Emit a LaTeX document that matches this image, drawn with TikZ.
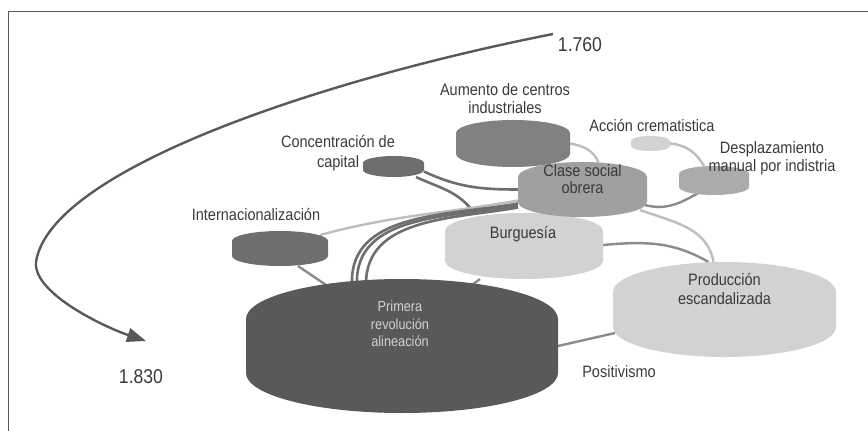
\documentclass[tikz,border=0pt]{standalone}
\usepackage{fontspec}
\setmainfont[FakeStretch=0.88]{Liberation Sans}
\usetikzlibrary{positioning,calc,arrows.meta}

\definecolor{gA}{HTML}{58595B}
\definecolor{gB}{HTML}{6D6E70}
\definecolor{gC}{HTML}{808183}
\definecolor{gD}{HTML}{9FA0A2}
\definecolor{gE}{HTML}{AAABAD}
\definecolor{gF}{HTML}{D1D2D4}
\definecolor{lnA}{HTML}{6D6E70}
\definecolor{lnB}{HTML}{8A8B8D}
\definecolor{lnC}{HTML}{BCBDBF}
\definecolor{txt}{HTML}{3A3A3A}

\begin{document}
\begin{tikzpicture}[x=1pt,y=-1pt,
    box/.style={rectangle,inner sep=0pt,outer sep=0pt},
    txt/.style={align=center,text=txt,inner sep=0pt,font=\fontsize{16.5}{18}\selectfont},
    year/.style={text=txt,inner sep=0pt,font=\fontsize{20}{22}\selectfont},
    dark/.style={draw=lnA,line width=2.6pt},
    mid/.style={draw=lnB,line width=2.4pt},
    light/.style={draw=lnC,line width=2.4pt}]
  \useasboundingbox (0,0) rectangle (868,431);
  \draw[gA,line width=1.5pt] (8.5,431) -- (8.5,11.5) -- (868,11.5);

  % cylinders (boxes only, filled further down)
  \node[box,minimum width=312pt,minimum height=134pt] (primera) at (402,346) {};
  \node[box,minimum width=223pt,minimum height=95pt] (prod) at (724.5,309.5) {};
  \node[box,minimum width=158pt,minimum height=66pt] (burg) at (524,246) {};
  \node[box,minimum width=129pt,minimum height=55pt] (clase) at (582.5,189.5) {};
  \node[box,minimum width=114pt,minimum height=47pt] (aumento) at (513,143.5) {};
  \node[box,minimum width=39pt,minimum height=15pt] (accion) at (650.5,143.5) {};
  \node[box,minimum width=70pt,minimum height=29pt] (despl) at (714,180.5) {};
  \node[box,minimum width=61pt,minimum height=21pt] (conc) at (393.5,166.5) {};
  \node[box,minimum width=96pt,minimum height=35pt] (inter) at (280,248.5) {};

  \path[light] (aumento.east) to[out=-10,in=115] ([xshift=16pt]clase.north);
  \path[light] (accion.east) to[out=-5,in=120] ([xshift=-10pt]despl.north);
  \path[mid] ([xshift=-2pt,yshift=12pt]clase.south east) to[out=-15,in=-150] ([xshift=-14pt,yshift=3pt]despl.south);
  \path[dark] ([yshift=-5pt]conc.east) to[out=-25,in=180] (clase.west);
  \path[dark] ([xshift=-8pt]conc.south east) to[out=-25,in=125] ([xshift=-50pt]burg.north);
  \path[light] ([xshift=-8pt,yshift=-4pt]inter.north east) to[out=15,in=190] ([yshift=-11pt]clase.west);
  \path[mid] ([xshift=18pt]inter.south) -- ([xshift=-76pt,yshift=-6pt]primera.north);
  \path[dark] ([xshift=-50pt,yshift=-5pt]primera.north) to[out=92,in=190] ([yshift=-14pt]clase.west);
  \path[dark] ([xshift=-45pt,yshift=-5pt]primera.north) to[out=92,in=190] ([yshift=-16pt]clase.west);
  \path[dark] ([xshift=-36pt,yshift=-5pt]primera.north) to[out=90,in=190] ([yshift=-18pt]clase.west);
  \path[mid] ([xshift=-44pt]burg.south) -- ([xshift=70pt,yshift=-6pt]primera.north);
  \path[mid] ([yshift=1pt]burg.east) to[out=5,in=150] ([xshift=-16pt]prod.north);
  \path[light] ([xshift=-7pt,yshift=7pt]clase.south east) to[out=-20,in=100] ([xshift=-11pt]prod.north);
  \path[mid] (primera.east) -- ([xshift=2pt,yshift=24pt]prod.south west);

  \foreach \nd/\r/\c in {primera/40/gA,prod/30/gF,burg/18/gF,clase/15/gD,aumento/13/gC,
      accion/5/gF,despl/8/gE,conc/7/gB,inter/10/gB}
    \fill[\c] let \p1=(\nd.west), \p2=(\nd.east) in
      ([yshift=-\r*1pt]\nd.north west)
      arc[start angle=180,end angle=0,x radius={(\x2-\x1)/2},y radius=\r*1pt]
      -- ([yshift=\r*1pt]\nd.south east)
      arc[start angle=0,end angle=-180,x radius={(\x2-\x1)/2},y radius=\r*1pt] -- cycle;

  \node[txt,text=gF,font=\fontsize{14.5}{17.5}\selectfont] (primera-t) at (400,324) {Primera\\revolución\\alineación};
  \node[txt,font=\fontsize{16.5}{19}\selectfont] (prod-t) at (724.5,289) {Producción\\escandalizada};
  \node[txt] (burg-t) at (523,234) {Burguesía};
  \node[txt,font=\fontsize{16.5}{17}\selectfont] (clase-t) at (582.5,179) {Clase social\\obrera};
  \node[txt] (aumento-t) at (505,99) {Aumento de centros\\industriales};
  \node[txt] (accion-t) at (652,126) {Acción crematistica};
  \node[txt] (despl-t) at (772,158) {Desplazamiento\\manual por indistria};
  \node[txt,font=\fontsize{16.5}{20}\selectfont] (conc-t) at (338,153) {Concentración de\\capital};
  \node[txt] (inter-t) at (256,215) {Internacionalización};
  \node[txt] (posit) at (619,372) {Positivismo};

  \node[year] (y1760) at (580,45) {1.760};
  \node[year] (y1830) at (141,377) {1.830};
  \coordinate (t0) at (553,34);
  \coordinate (t1) at (146,341);
  \draw[gA,line width=2.4pt,-{Triangle[length=19pt,width=14pt]}]
    (t0) .. controls (320,80) and (50,170) .. (36,262) .. controls (33,294) and (107,328) .. (t1);
\end{tikzpicture}
\end{document}
